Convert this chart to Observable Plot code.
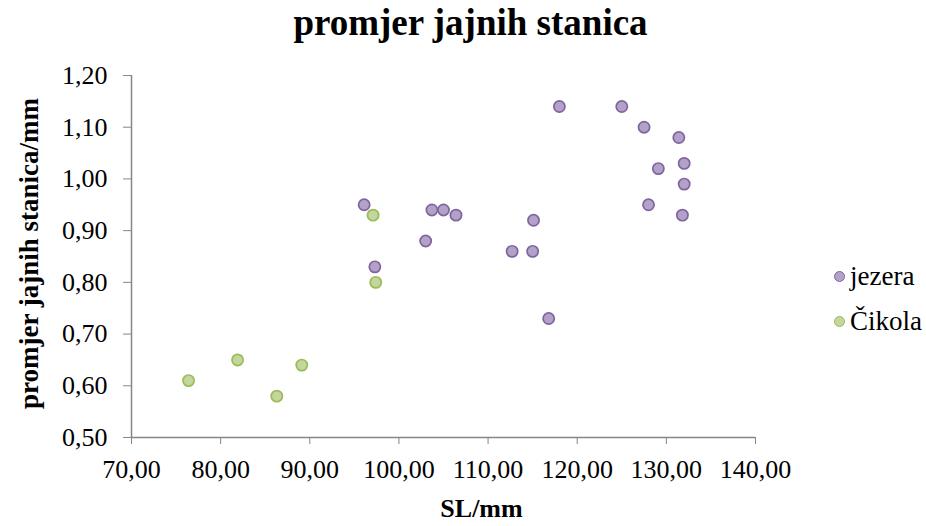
<!DOCTYPE html>
<html><head><meta charset="utf-8">
<script src="https://cdn.jsdelivr.net/npm/d3@7"></script>
<script src="https://cdn.jsdelivr.net/npm/@observablehq/plot@0.6"></script>
<style>
body{margin:0;background:#fff;}
#wrap{position:relative;width:926px;height:526px;font-family:"Liberation Serif","Times New Roman",serif;color:#000;overflow:hidden;}
#title{position:absolute;left:0;top:4px;width:941px;text-align:center;font-weight:bold;font-size:37px;line-height:37px;white-space:nowrap;}
#chart{position:absolute;left:0;top:50px;}
#legend{position:absolute;left:834px;top:254px;font-size:27px;line-height:45px;}
#legend .it{display:flex;align-items:center;height:45px;}
#legend .sw{display:inline-block;width:9px;height:9px;border-radius:50%;border-width:1.6px;border-style:solid;margin-right:5px;}
</style></head>
<body>
<div id="wrap">
  <div id="title"></div>
  <div id="chart"></div>
  <div id="legend"></div>
</div>
<script>
const titleText = "promjer jajnih stanica";
const xLabel = "SL/mm";
const yLabel = "promjer jajnih stanica/mm";
const seriesNames = ["jezera", "Čikola"];
const seriesFill = ["#b3a2c7", "#c3d69b"];
const seriesStroke = ["#8064a2", "#9bbb59"];

const jezeraSL = [118.0, 125.0, 127.5, 131.4, 132.0, 129.1, 132.0, 128.0, 131.8, 96.1, 103.7, 105.0, 106.4, 103.0, 115.1, 112.7, 115.0, 97.3, 116.8];
const jezeraD  = [1.14, 1.14, 1.10, 1.08, 1.03, 1.02, 0.99, 0.95, 0.93, 0.95, 0.94, 0.94, 0.93, 0.88, 0.92, 0.86, 0.86, 0.83, 0.73];
const cikolaSL = [97.1, 97.4, 76.4, 81.9, 86.3, 89.1];
const cikolaD  = [0.93, 0.80, 0.61, 0.65, 0.58, 0.64];

const xTicks = [70, 80, 90, 100, 110, 120, 130, 140];
const yTicks = [0.5, 0.6, 0.7, 0.8, 0.9, 1.0, 1.1, 1.2];

const loc = d3.formatLocale({decimal: ",", thousands: ".", grouping: [3], currency: ["", ""]});
const fmt = loc.format(".2f");

const data = [
  ...jezeraSL.map((x, i) => ({sl: x, d: jezeraD[i], g: seriesNames[0]})),
  ...cikolaSL.map((x, i) => ({sl: x, d: cikolaD[i], g: seriesNames[1]}))
];

document.getElementById("title").textContent = titleText;

const axisColor = "#868686";
const chart = Plot.plot({
  width: 926, height: 476,
  marginLeft: 131, marginRight: 171, marginTop: 25, marginBottom: 89,
  style: {fontFamily: '"Liberation Serif","Times New Roman",serif', fontSize: "26px", color: "#000", background: "#fff", overflow: "visible"},
  x: {domain: [70, 140]},
  y: {domain: [0.5, 1.2]},
  color: {domain: seriesNames, range: seriesFill},
  marks: [
    Plot.axisX({ticks: xTicks, tickFormat: fmt, tickSize: 7, tickPadding: 15, stroke: axisColor, fill: "#000", label: null}),
    Plot.axisY({ticks: yTicks, tickFormat: fmt, tickSize: 8, tickPadding: 16, stroke: axisColor, fill: "#000", label: null}),
    Plot.ruleX([70], {stroke: axisColor, strokeWidth: 1.5}),
    Plot.ruleY([0.5], {stroke: axisColor, strokeWidth: 1.5}),
    Plot.dot(data, {x: "sl", y: "d", r: 5.6, fill: "g",
      stroke: d => seriesStroke[seriesNames.indexOf(d.g)], strokeWidth: 1.7}),
    Plot.text([xLabel], {frameAnchor: "bottom", textAnchor: "middle", lineAnchor: "middle", dx: 38, dy: 71, fontWeight: "bold", fontSize: 26, fill: "#000"}),
    Plot.text([yLabel], {frameAnchor: "left", textAnchor: "middle", lineAnchor: "middle", rotate: -90, dx: -102, dy: -3, fontWeight: "bold", fontSize: 27, fill: "#000"})
  ]
});
document.getElementById("chart").append(chart);

const lg = document.getElementById("legend");
seriesNames.forEach((n, i) => {
  const it = document.createElement("div");
  it.className = "it";
  const sw = document.createElement("span");
  sw.className = "sw";
  sw.style.background = seriesFill[i];
  sw.style.borderColor = seriesStroke[i];
  it.append(sw, document.createTextNode(n));
  lg.append(it);
});
</script>
</body></html>
